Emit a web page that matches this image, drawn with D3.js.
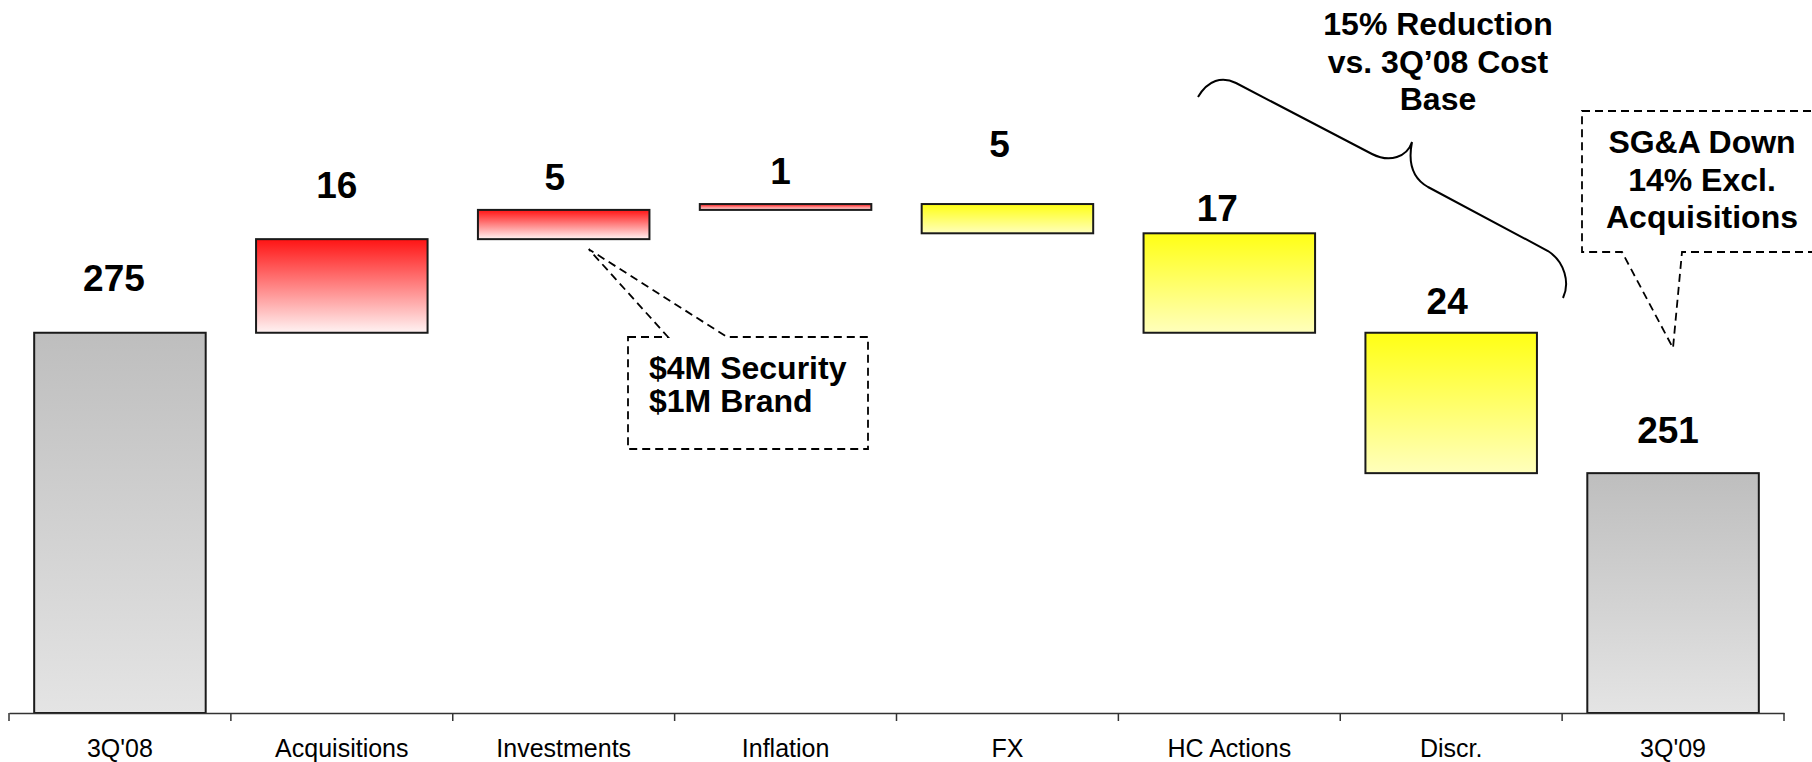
<!DOCTYPE html>
<html>
<head>
<meta charset="utf-8">
<script src="https://cdn.jsdelivr.net/npm/d3@7"></script>
<style>
  html, body { margin: 0; padding: 0; background: #fff; }
  svg { display: block; font-family: "Liberation Sans", Arial, sans-serif; }
</style>
</head>
<body>
<svg id="chart" width="1812" height="762"></svg>
<script>
// SG&A bridge, 3Q'08 to 3Q'09 ($M)
const categories = ["3Q'08", "Acquisitions", "Investments", "Inflation", "FX", "HC Actions", "Discr.", "3Q'09"];
const values     = [275, 16, 5, 1, -5, -17, -24, 251];
const kinds      = ["total", "up", "up", "up", "down", "down", "down", "total"];

// Annotation texts
const investNote = ["$4M Security", "$1M Brand"];
const braceNote  = ["15% Reduction", "vs. 3Q\u201908 Cost", "Base"];
const sgaNote    = ["SG&A Down", "14% Excl.", "Acquisitions"];

// Value label placement (lift above bar top, horizontal nudge), in px
const labelLift  = [42, 41, 20, 20, 47, 12, 19, 30];
const labelNudge = [-6, -5, -9, -5, -8, -12, -4, -5];

const W = 1812, H = 762;
const axisY = 713;
const svg = d3.select("#chart");

// Build waterfall segments
let running = 0;
const bars = categories.map((c, i) => {
  const v = values[i];
  let lo, hi;
  if (kinds[i] === "total") { lo = null; hi = v; running = v; }
  else { const start = running; running += v; lo = Math.min(start, running); hi = Math.max(start, running); }
  return { cat: c, value: v, kind: kinds[i], lo, hi, i };
});

const x = d3.scaleBand().domain(categories).range([9, 1784]).paddingInner(0.227).paddingOuter(0.1135);
const y = d3.scaleLinear().domain([210, 300]).range([axisY, axisY - 90 * 5.85]);

// Gradients
const defs = svg.append("defs");
const grads = {
  total: ["#bebebe", "#e4e4e4"],
  up:    ["#ff1414", "#fff3f3"],
  down:  ["#ffff14", "#ffffbc"]
};
Object.entries(grads).forEach(([k, [c0, c1]]) => {
  const g = defs.append("linearGradient").attr("id", "g-" + k)
    .attr("x1", 0).attr("y1", 0).attr("x2", 0).attr("y2", 1);
  g.append("stop").attr("offset", "0%").attr("stop-color", c0);
  g.append("stop").attr("offset", "100%").attr("stop-color", c1);
});

// Bars
svg.append("g").selectAll("rect").data(bars).join("rect")
  .attr("x", d => x(d.cat))
  .attr("width", x.bandwidth())
  .attr("y", d => y(d.hi))
  .attr("height", d => (d.kind === "total" ? axisY : y(d.lo)) - y(d.hi))
  .attr("fill", d => `url(#g-${d.kind})`)
  .attr("stroke", "#1a1a1a")
  .attr("stroke-width", 2);

// Value labels
svg.append("g").selectAll("text").data(bars).join("text")
  .attr("x", d => x(d.cat) + x.bandwidth() / 2 + labelNudge[d.i])
  .attr("y", d => y(d.hi) - labelLift[d.i])
  .attr("text-anchor", "middle")
  .attr("font-weight", "bold")
  .attr("font-size", 37)
  .attr("fill", "#000")
  .text(d => Math.abs(d.value));

// Category axis
const axis = svg.append("g").attr("transform", `translate(0,${axisY})`)
  .call(d3.axisBottom(x).tickSize(0).tickPadding(44).tickSizeOuter(0));
axis.select(".domain").attr("stroke", "#333").attr("stroke-width", 1.5);
axis.selectAll("text").attr("font-size", 25).attr("font-family", "'Liberation Sans', Arial, sans-serif").attr("fill", "#000").attr("dy", 0);
const step = x.step();
const bounds = d3.range(categories.length + 1).map(i => 9 + i * step);
axis.selectAll(".bound").data(bounds).join("line").attr("class", "bound")
  .attr("x1", d => d).attr("x2", d => d).attr("y1", 0).attr("y2", 8)
  .attr("stroke", "#333").attr("stroke-width", 1.5);

// Dashed callout: investments breakdown
const invBar = bars[2];
const tipX = x(invBar.cat) + x.bandwidth() / 2 + 25, tipY = y(invBar.lo) + 10;
const box1 = { l: 628, r: 868, t: 337, b: 449 };
svg.append("path")
  .attr("d", `M${box1.l},${box1.t} L668,${box1.t} L${tipX},${tipY} L727,${box1.t} L${box1.r},${box1.t} L${box1.r},${box1.b} L${box1.l},${box1.b} Z`)
  .attr("fill", "none").attr("stroke", "#000").attr("stroke-width", 1.8).attr("stroke-dasharray", "8,5");
svg.append("g").selectAll("text").data(investNote).join("text")
  .attr("x", 649).attr("y", (d, i) => 379 + i * 33)
  .attr("font-weight", "bold").attr("font-size", 32).text(d => d);

// Brace over HC Actions and Discr.
svg.append("path")
  .attr("d", "M1198,97 C1208,80 1222,76 1236,83 L1372,154 C1390,163 1407,157 1412,142 C1408,162 1412,178 1428,187 L1548,251 C1565,262 1570,283 1563,298")
  .attr("fill", "none").attr("stroke", "#000").attr("stroke-width", 2);
svg.append("g").selectAll("text").data(braceNote).join("text")
  .attr("x", 1438).attr("y", (d, i) => 35 + i * 37.5)
  .attr("text-anchor", "middle").attr("font-weight", "bold").attr("font-size", 32).text(d => d);

// Dashed callout: SG&A excluding acquisitions
const box2 = { l: 1582, r: 1830, t: 111, b: 252 };
svg.append("path")
  .attr("d", `M${box2.l},${box2.t} L${box2.r},${box2.t} L${box2.r},${box2.b} L1682,${box2.b} L1673,348 L1622,${box2.b} L${box2.l},${box2.b} Z`)
  .attr("fill", "none").attr("stroke", "#000").attr("stroke-width", 1.8).attr("stroke-dasharray", "8,5");
svg.append("g").selectAll("text").data(sgaNote).join("text")
  .attr("x", 1702).attr("y", (d, i) => 153 + i * 37.5)
  .attr("text-anchor", "middle").attr("font-weight", "bold").attr("font-size", 32).text(d => d);
</script>
</body>
</html>
